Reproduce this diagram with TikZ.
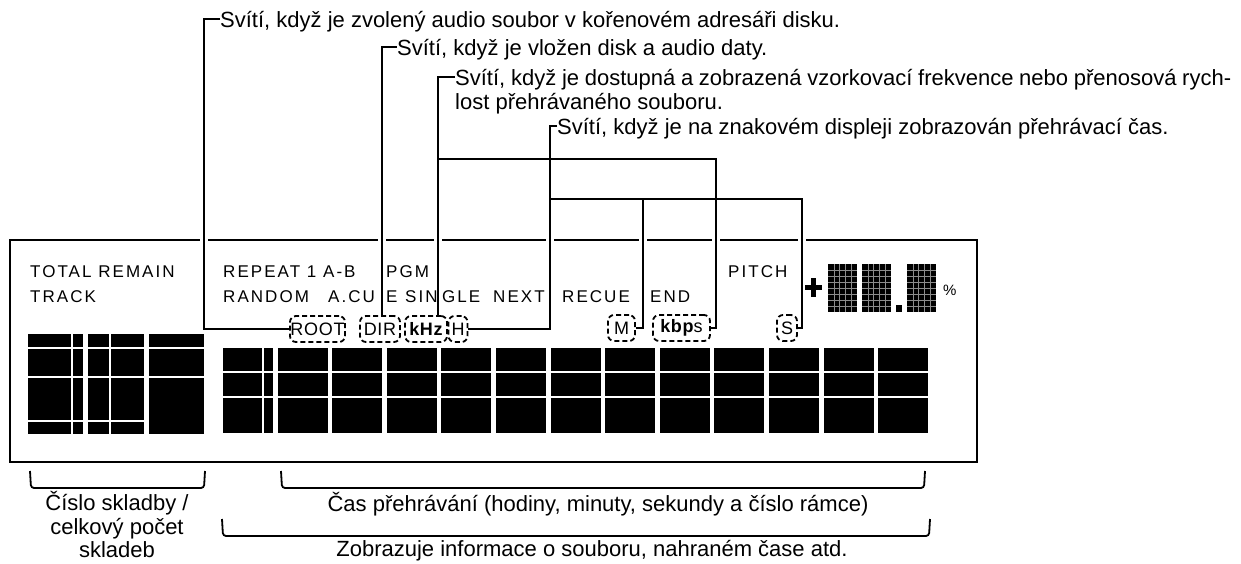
\documentclass[tikz,border=0pt]{standalone}
\usepackage{fontspec}
\setmainfont{Liberation Sans}
\newfontfamily\lcdfont[LetterSpace=12]{Liberation Sans}
\newfontfamily\tagfont[LetterSpace=4]{Liberation Sans}
\begin{document}
\begin{tikzpicture}[x=1pt,y=-1pt,
  ann/.style={font=\fontsize{22}{26}\selectfont, inner sep=0pt, text height=16pt, text depth=0pt, anchor=west},
  lcd/.style={font=\lcdfont\fontsize{17}{20}\selectfont, inner sep=0pt, anchor=west},
  lead/.style={line width=1.8pt},
  tag/.style={draw, dash pattern=on 5pt off 3pt, rounded corners=6pt, line width=1.8pt, inner sep=0pt, minimum height=26pt, font=\tagfont\fontsize{18}{20}\selectfont},
  gap/.style={white, line width=1.3pt},
  grid/.style={white!55!black, line width=0.6pt},
  brk/.style={line width=1.8pt, rounded corners=3pt},
]
\useasboundingbox (0,0) rectangle (1241,563);

% display frame
\node[draw, line width=2.4pt, inner sep=0pt, anchor=north west, minimum width=967pt, minimum height=222pt] (disp) at (9,239) {};
\foreach \x in {204,382,438,550,643,716,802}
  \draw[white, line width=3.5pt] (\x-4,239) -- (\x+4,239);

% left digits
\foreach \a/\b in {28/83, 88/144, 149/204} {
  \fill (\a,334) rectangle (\b,434);
  \draw[gap] (\a,348) -- (\b,348) (\a,377) -- (\b,377);
}
\draw[gap] (28,421) -- (83,421) (88,421) -- (144,421);
\draw[gap] (72,334) -- (72,434) (110,334) -- (110,434);

% right digits
\foreach \i in {0,...,12}
  \fill ({223+54.6*\i},348) rectangle ({273+54.6*\i},433);
\draw[gap] (223,372) -- (928,372) (223,397) -- (928,397) (263,348) -- (263,433);

% pitch matrices
\fill (805,285) rectangle (822,290);
\fill (811,278) rectangle (816,297);
\foreach \a in {828,862,907} {
  \fill (\a,264) rectangle ++(29,48);
  \foreach \k in {1,...,4} \draw[grid] ({\a+\k*29/5},264) -- ++(0,48);
  \foreach \k in {1,...,7} \draw[grid] (\a,{264+\k*6}) -- ++(29,0);
}
\fill (896,305) rectangle (902,312);
\node[lcd, font=\fontsize{15}{18}\selectfont] (pct) at (943,290) {\%};

% lcd texts
\node[lcd] (total) at (30,272) {TOTAL REMAIN};
\node[lcd] (track) at (30,297) {TRACK};
\node[lcd] (rep) at (223,272) {REPEAT 1 A-B};
\node[lcd] (pgm) at (386,272) {PGM};
\node[lcd] (pitch) at (728,272) {PITCH};
\node[lcd] (rnd) at (223,297) {RANDOM};
\node[lcd] (acu) at (328,297) {A.CU};
\node[lcd] (acue) at (386,297) {E};
\node[lcd] (sin) at (405,297) {SIN};
\node[lcd] (gle) at (442,297) {GLE};
\node[lcd] (next) at (493,297) {NEXT};
\node[lcd] (recue) at (562,297) {RECUE};
\node[lcd] (endn) at (650,297) {END};

% dashed indicators
\node[tag, minimum width=55pt] (root) at (317.5,329) {ROOT};
\node[tag, minimum width=40pt] (dir) at (380,329) {DIR};
\node[tag, minimum width=42pt] (khz) at (426,329) {\bfseries kHz};
\node[tag, minimum width=19pt] (h) at (458,329) {H};
\node[tag, minimum width=27pt] (m) at (621.5,328) {M};
\node[tag, minimum width=57pt] (kbps) at (681.5,328) {\bfseries kbp\mdseries s};
\node[tag, minimum width=20pt] (s) at (787,328) {S};

% annotations
\node[ann] (t1) at (220,19) {Svítí, když je zvolený audio soubor v kořenovém adresáři disku.};
\draw[lead] (t1.west) -- ++(-16,0) |- (root.west);
\node[ann] (t2) at (397,47) {Svítí, když je vložen disk a audio daty.};
\draw[lead] (t2.west) -- ++(-15,0) coordinate (v2) -- (v2 |- dir.north);
\node[ann] (t3a) at (455,77) {\makebox[776pt][s]{Svítí, když je dostupná a zobrazená vzorkovací frekvence nebo přenosová rych-}};
\node[ann] (t3b) at (455,101) {lost přehrávaného souboru.};
\draw[lead] (t3a.west) -- ++(-17,0) coordinate (v3) -- (v3 |- khz.north);
\coordinate (b1) at (716,159);
\draw[lead] (v3 |- b1) -- (b1) |- (kbps.east);
\node[ann] (t4) at (557,126) {Svítí, když je na znakovém displeji zobrazován přehrávací čas.};
\draw[lead] (t4.west) -- ++(-7,0) coordinate (v4) |- (h.east);
\coordinate (b2) at (802,199);
\coordinate (b3) at (643,199);
\draw[lead] (v4 |- b2) -- (b2) |- (s.east);
\draw[lead] (b3) |- (m.east);

% bottom brackets and labels
\draw[brk] (30,471) -- (31,488) -- (204,488) -- (205,471);
\draw[brk] (281,471) -- (282,488) -- (924,488) -- (925,471);
\draw[brk] (222,519) -- (223,536) -- (929,536) -- (930,519);
\node[ann, anchor=center] (n1a) at (117,502) {Číslo skladby /};
\node[ann, anchor=center] (n1b) at (117,526) {celkový počet};
\node[ann, anchor=center] (n1c) at (117,549) {skladeb};
\node[ann, anchor=center] (n2) at (598,503) {Čas přehrávání (hodiny, minuty, sekundy a číslo rámce)};
\node[ann, anchor=center] (n3) at (592,548) {Zobrazuje informace o souboru, nahraném čase atd.};
\end{tikzpicture}
\end{document}
